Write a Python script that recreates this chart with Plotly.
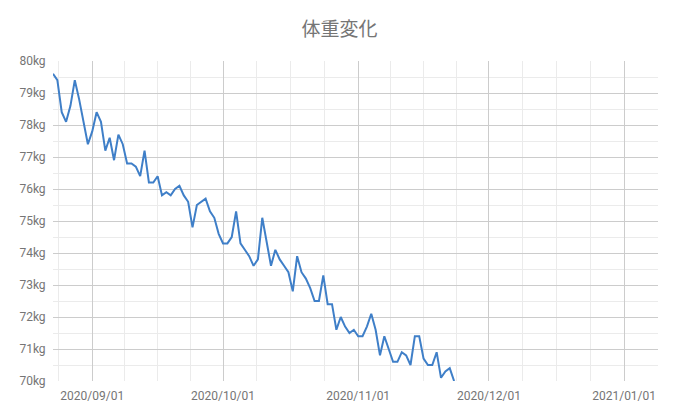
import pandas as pd
import plotly.graph_objects as go

start_date = "2020-08-23"
weights = [
    79.6, 79.4, 78.4, 78.1, 78.6, 79.4, 78.8, 78.1, 77.4, 77.8,
    78.4, 78.1, 77.2, 77.6, 76.9, 77.7, 77.4, 76.8, 76.8, 76.7,
    76.4, 77.2, 76.2, 76.2, 76.4, 75.8, 75.9, 75.8, 76.0, 76.1,
    75.8, 75.6, 74.8, 75.5, 75.6, 75.7, 75.3, 75.1, 74.6, 74.3,
    74.3, 74.5, 75.3, 74.3, 74.1, 73.9, 73.6, 73.8, 75.1, 74.3,
    73.6, 74.1, 73.8, 73.6, 73.4, 72.8, 73.9, 73.4, 73.2, 72.9,
    72.5, 72.5, 73.3, 72.4, 72.4, 71.6, 72.0, 71.7, 71.5, 71.6,
    71.4, 71.4, 71.7, 72.1, 71.6, 70.8, 71.4, 71.0, 70.6, 70.6,
    70.9, 70.8, 70.5, 71.4, 71.4, 70.7, 70.5, 70.5, 70.9, 70.1,
    70.3, 70.4, 70.0,
]
dates = pd.date_range(start_date, periods=len(weights), freq="D")

x_ticks = ["2020-09-01", "2020-10-01", "2020-11-01", "2020-12-01", "2021-01-01"]
x_tick_labels = ["2020/09/01", "2020/10/01", "2020/11/01", "2020/12/01", "2021/01/01"]
y_min, y_max = 70, 80

# minor grid: quarter of each month
month_starts = pd.date_range("2020-08-01", "2021-02-01", freq="MS")
minor_x = []
for a, b in zip(month_starts[:-1], month_starts[1:]):
    span = b - a
    for k in (1, 2, 3):
        minor_x.append((a + span * k / 4).strftime("%Y-%m-%d %H:%M:%S"))

text_color = "#757575"

# page body has an 8px default margin, so the figure is sized to fill the rest
W, H = 671, 412

fig = go.Figure()
fig.add_trace(go.Scatter(
    x=dates, y=weights, mode="lines",
    line=dict(color="#3f7fc8", width=2),
    showlegend=False,
))

fig.update_layout(
    width=W, height=H,
    margin=dict(l=45, r=21, t=53, b=39),
    paper_bgcolor="white", plot_bgcolor="white",
    font=dict(family="Roboto, Arial, sans-serif", size=12, color=text_color),
    title=dict(text="体重変化", x=331.5 / W, xref="container", xanchor="center",
               y=1 - 21 / H, yref="container", yanchor="middle",
               font=dict(size=19, color=text_color,
                         family="Roboto, 'Noto Sans CJK JP', sans-serif")),
    xaxis=dict(
        type="date",
        range=["2020-08-23", "2021-01-08 18:30"],
        tickmode="array", tickvals=x_ticks, ticktext=x_tick_labels,
        showgrid=True, gridcolor="#cccccc", gridwidth=1,
        zeroline=False, showline=False,
        ticks="outside", ticklen=4, tickcolor="rgba(0,0,0,0)",
        minor=dict(tickmode="array", tickvals=minor_x, showgrid=True,
                   gridcolor="#ebebeb", gridwidth=1),
    ),
    yaxis=dict(
        range=[y_min, y_max],
        tickmode="linear", tick0=70, dtick=1, ticksuffix="kg",
        showgrid=True, gridcolor="#cccccc", gridwidth=1,
        zeroline=False, showline=False,
        ticks="outside", ticklen=4, tickcolor="rgba(0,0,0,0)",
        minor=dict(dtick=0.5, showgrid=True, gridcolor="#ebebeb", gridwidth=1),
    ),
)

fig.write_html("out.html")
